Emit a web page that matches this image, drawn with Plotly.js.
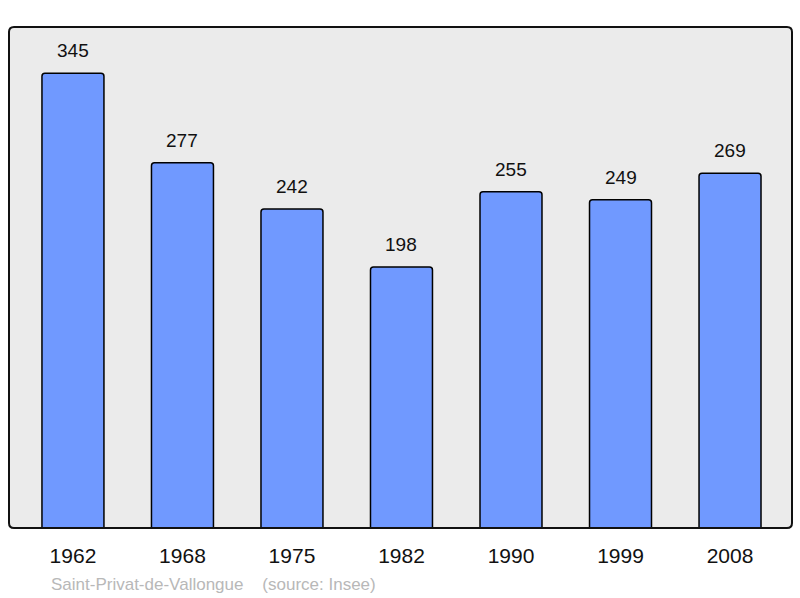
<!DOCTYPE html>
<html><head><meta charset="utf-8">
<script src="https://cdn.plot.ly/plotly-3.0.1.min.js"></script>
<style>html,body{margin:0;padding:0;background:#fff;}</style>
</head><body><div id="chart" style="width:800px;height:598px"></div>
<script>
const years = ["1962","1968","1975","1982","1990","1999","2008"];
const population = [345,277,242,198,255,249,269];
const footer = "Saint-Privat-de-Vallongue    (source: Insee)";

const idx = years.map((_, i) => i);
const trace = {
  type: 'bar', x: idx, y: population, width: 0.566,
  marker: {color: '#7099ff', line: {color: '#000', width: 1.5}, cornerradius: 3},
  hoverinfo: 'none'
};
const annotations = population.map((v, i) => ({
  x: i, y: v, xref: 'x', yref: 'y', text: String(v), showarrow: false,
  yanchor: 'bottom', yshift: 10, font: {family: 'Liberation Sans, Arial, sans-serif', size: 19, color: '#111'}
}));
annotations.push({
  x: (49 - 9) / 783, y: (528 - 584) / 501, xref: 'paper', yref: 'paper', text: footer, showarrow: false,
  xanchor: 'left', yanchor: 'middle',
  font: {family: 'Liberation Sans, Arial, sans-serif', size: 17, color: '#b8b8b8'}
});

const rx = 5 / 783, ry = 5 / 501;
const framePath = `M ${rx},0 L ${1-rx},0 Q 1,0 1,${ry} L 1,${1-ry} Q 1,1 ${1-rx},1 L ${rx},1 Q 0,1 0,${1-ry} L 0,${ry} Q 0,0 ${rx},0 Z`;

const layout = {
  width: 800, height: 598,
  margin: {l: 9, r: 8, t: 27, b: 70},
  paper_bgcolor: '#fff', plot_bgcolor: 'rgba(0,0,0,0)',
  showlegend: false,
  xaxis: {range: [-0.584, 6.566], tickvals: idx, ticktext: years, showgrid: false, zeroline: false,
          ticks: '', ticklabelstandoff: 13, fixedrange: true,
          tickfont: {family: 'Liberation Sans, Arial, sans-serif', size: 21, color: '#111'}},
  yaxis: {range: [0, 380], showgrid: false, zeroline: false, showticklabels: false, fixedrange: true},
  shapes: [
    {type: 'path', xref: 'paper', yref: 'paper', path: framePath, fillcolor: '#ebebeb',
     line: {width: 0}, layer: 'below'},
    {type: 'path', xref: 'paper', yref: 'paper', path: framePath,
     line: {color: '#111', width: 2}, layer: 'above'}
  ],
  annotations: annotations
};
Plotly.newPlot('chart', [trace], layout, {displayModeBar: false, staticPlot: true});
</script></body></html>
